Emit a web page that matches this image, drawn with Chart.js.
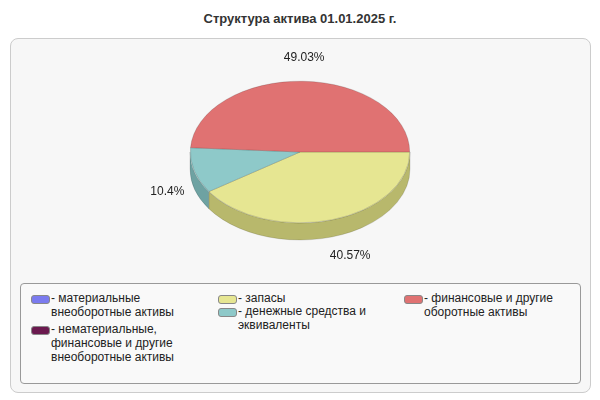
<!DOCTYPE html>
<html><head><meta charset="utf-8">
<script src="https://cdn.jsdelivr.net/npm/chart.js@4/dist/chart.umd.min.js"></script>
<style>
body{margin:0;width:600px;height:400px;background:#fff;font-family:"Liberation Sans",Arial,sans-serif;position:relative;overflow:hidden}
#title{position:absolute;top:11px;left:0;width:600px;text-align:center;font-weight:bold;font-size:13px;color:#333}
#panel{position:absolute;left:10px;top:38px;width:579px;height:353px;border:1px solid #ccc;border-radius:8px;background:#f7f7f7}
#c{position:absolute;left:0;top:0}
#legend{position:absolute;left:20px;top:283px;width:559px;height:99px;border:1px solid #999;border-radius:4px;background:#f9f9f9}
.li{position:absolute;font-size:12px;color:#222;line-height:14px}
.sw{position:absolute;left:0;top:4px;width:17px;height:7px;border-radius:3px;border:1px solid #888}
.tx{margin-left:20px}
</style></head><body>
<div id="title">Структура актива 01.01.2025 г.</div>
<div id="panel"></div>
<canvas id="c" width="600" height="400"></canvas>
<div id="legend"></div>
<script>
const categories=["материальные внеоборотные активы","нематериальные, финансовые и другие внеоборотные активы","запасы","денежные средства и эквиваленты","финансовые и другие оборотные активы"];
const values=[0,0,40.57,10.4,49.03];
const labels=["","","40.57%","10.4%","49.03%"];
const colors=["#7b7bef","#6b1a4f","#e6e692","#8ec9c9","#e07272"];
const sideColors=["#5a5ab0","#4a1038","#b8b86c","#6ea2a2","#a85252"];
const legendText=["- материальные<br>внеоборотные активы","- нематериальные,<br>финансовые и другие<br>внеоборотные активы","- запасы","- денежные средства и<br>эквиваленты","- финансовые и другие<br>оборотные активы"];
const legendPos=[[10,7],[10,38],[197,7],[197,20],[383,7]];
const lg=document.getElementById('legend');
legendText.forEach((t,i)=>{const d=document.createElement('div');d.className='li';d.style.left=legendPos[i][0]+'px';d.style.top=legendPos[i][1]+'px';d.innerHTML='<div class="sw" style="background:'+colors[i]+'"></div><div class="tx">'+t+'</div>';lg.appendChild(d);});
const CX=300,CY=152,R=110,S=71/110,D=17;
const plug={id:'p3d',
beforeDatasetsDraw(ch){const ctx=ch.ctx;const arcs=ch.getDatasetMeta(0).data;
 ctx.save();
 arcs.forEach((a,i)=>{let s=a.startAngle,e=a.endAngle;
  for(let k=-1;k<=1;k++){let s2=Math.max(s,k*2*Math.PI),e2=Math.min(e,k*2*Math.PI+Math.PI);if(e2<=s2)continue;
   ctx.beginPath();ctx.ellipse(CX,CY,R,R*S,0,s2,e2);ctx.ellipse(CX,CY+D,R,R*S,0,e2,s2,true);ctx.closePath();
   ctx.fillStyle=sideColors[i];ctx.fill();ctx.strokeStyle='rgba(0,0,0,0.25)';ctx.lineWidth=0.5;ctx.stroke();}
 });
 ctx.restore();
 ctx.save();ctx.translate(CX,CY);ctx.scale(1,S);ctx.translate(-CX,-CY);},
afterDatasetsDraw(ch){const ctx=ch.ctx;ctx.restore();const arcs=ch.getDatasetMeta(0).data;
 ctx.save();ctx.font='12px "Liberation Sans",Arial';ctx.fillStyle='#222';ctx.textAlign='center';ctx.textBaseline='middle';
 arcs.forEach((a,i)=>{if(!labels[i])return;const m=(a.startAngle+a.endAngle)/2;const c=Math.cos(m),s=Math.sin(m);
  const x=CX+R*1.25*c+(i==2?10:0),y=CY+R*S*1.2*s+(s>0?D:0)+(i==4?-9:0)+(i==2?5:0);ctx.fillText(labels[i],x,y);});
 ctx.restore();}
};
new Chart(document.getElementById('c'),{type:'pie',
 data:{labels:categories,datasets:[{data:values,backgroundColor:colors,borderColor:'rgba(0,0,0,0.3)',borderWidth:0.6}]},
 options:{responsive:false,animation:false,rotation:90,
  layout:{padding:{left:CX-R,right:600-CX-R,top:CY-R,bottom:400-CY-R}},
  plugins:{legend:{display:false},tooltip:{enabled:false}}},
 plugins:[plug]});
</script></body></html>
